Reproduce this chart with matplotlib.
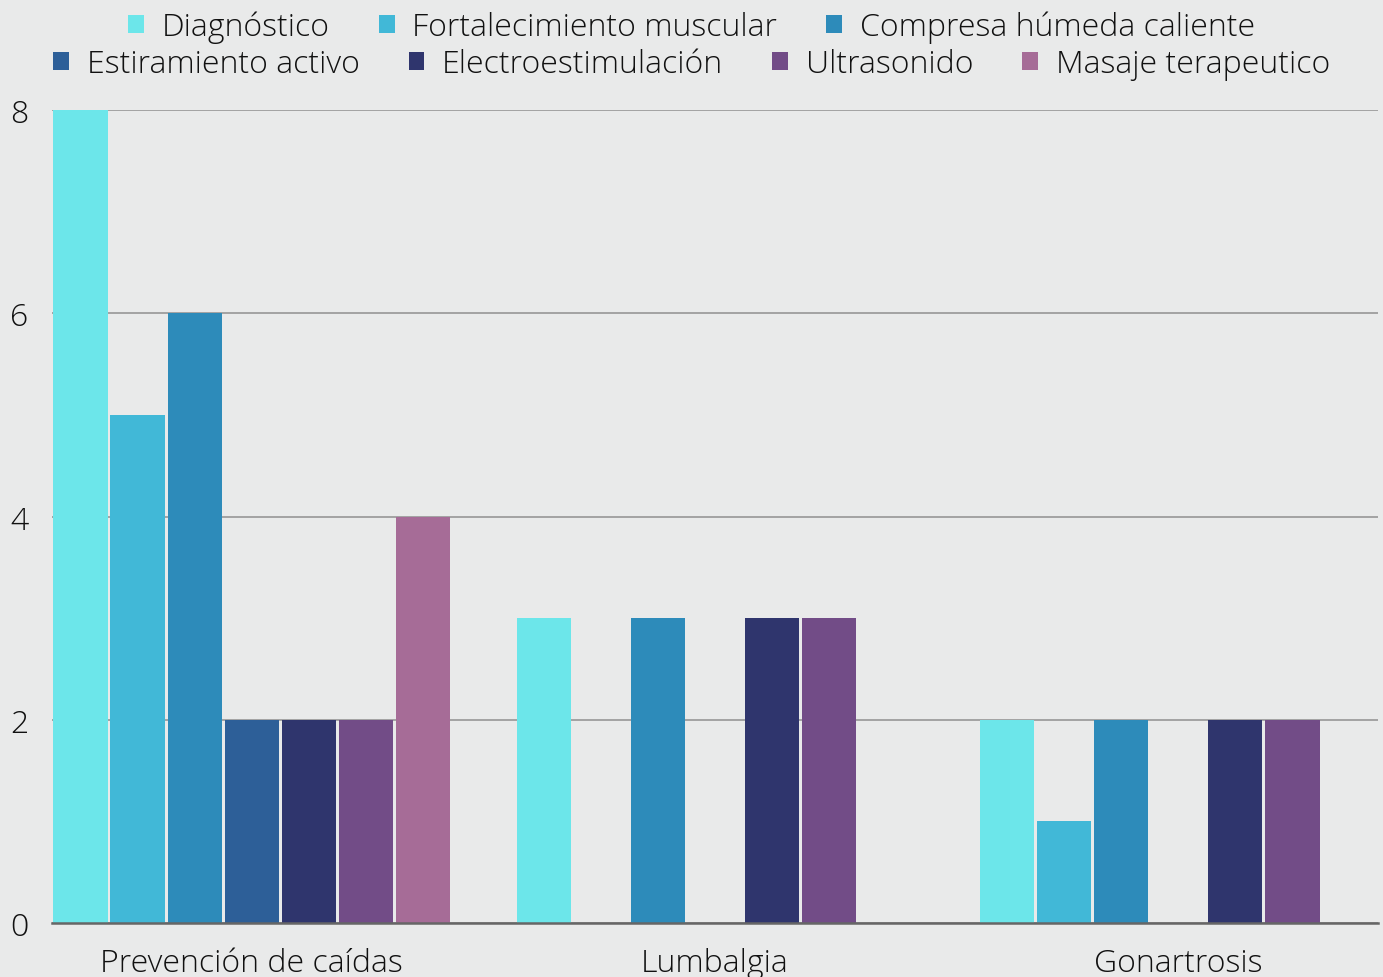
import numpy as np
import matplotlib
matplotlib.use("Agg")
import matplotlib.pyplot as plt
from matplotlib.patches import Patch

plt.rcParams["font.family"] = ["Open Sans", "DejaVu Sans"]
plt.rcParams["font.weight"] = "light"

# Data
categories = ["Prevención de caídas", "Lumbalgia", "Gonartrosis"]
series = [
    "Diagnóstico", "Fortalecimiento muscular", "Compresa húmeda caliente",
    "Estiramiento activo", "Electroestimulación", "Ultrasonido", "Masaje terapeutico",
]
diagnostico     = [8, 3, 2]
fortalecimiento = [5, 0, 1]
compresa        = [6, 3, 2]
estiramiento    = [2, 0, 0]
electro         = [2, 3, 2]
ultrasonido     = [2, 3, 2]
masaje          = [4, 0, 0]
values = [diagnostico, fortalecimiento, compresa, estiramiento, electro, ultrasonido, masaje]
y_ticks = [0, 2, 4, 6, 8]

COLORS = ["#6ce6ea", "#41b8d7", "#2d8bba", "#2d5f98", "#2f356d", "#724c87", "#a66c97"]
BG = "#e9eaea"
TEXT = "#111111"
FS = 23

fig = plt.figure(figsize=(13.83, 9.78), dpi=100, facecolor=BG)
ax = fig.add_axes([52 / 1383, 1 - 924 / 978, (1378 - 52) / 1383, (924 - 111) / 978])
ax.set_facecolor("none")

n = len(series)
step = 400 / 464 / n          # width of one bar slot in category units
x = np.arange(len(categories))
for i, (name, vals) in enumerate(zip(series, values)):
    offs = x - (n * step) / 2 + step * (i + 0.5)
    ax.bar(offs, vals, width=step * 0.95, color=COLORS[i], label=name,
           linewidth=0, zorder=3)

half = n * step / 2
ax.set_xlim(-half, len(categories) - 1 + half)
ax.set_ylim(0, 8)
ax.set_yticks(y_ticks)
ax.set_yticklabels([str(v) for v in y_ticks], fontsize=FS, color=TEXT)
ax.set_xticks(x)
ax.set_xticklabels(categories, fontsize=FS, color=TEXT)
ax.tick_params(axis="both", length=0)
ax.tick_params(axis="y", pad=17)
ax.tick_params(axis="x", pad=17)

ax.grid(axis="y", color="#a3a3a3", linewidth=1.4, zorder=0)
for s in ["top", "right", "left"]:
    ax.spines[s].set_visible(False)
ax.spines["bottom"].set_color("#666666")
ax.spines["bottom"].set_linewidth(1.8)
ax.spines["bottom"].set_zorder(4)

# Legend in two centred rows (3 + 4 entries)
handles = [Patch(facecolor=c, edgecolor="none") for c in COLORS]
leg_kw = dict(frameon=False, fontsize=FS, handlelength=0.5, handleheight=0.5,
              handletextpad=0.55, columnspacing=1.53, borderpad=0, borderaxespad=0,
              labelcolor=TEXT)
leg1 = fig.legend(handles[:3], series[:3], ncol=3, loc="center",
                  bbox_to_anchor=(0.5, 1 - 28 / 978), **leg_kw)
leg2 = fig.legend(handles[3:], series[3:], ncol=4, loc="center",
                  bbox_to_anchor=(0.5, 1 - 65 / 978), **leg_kw)

fig.savefig("out.png", dpi=100, facecolor=BG)
